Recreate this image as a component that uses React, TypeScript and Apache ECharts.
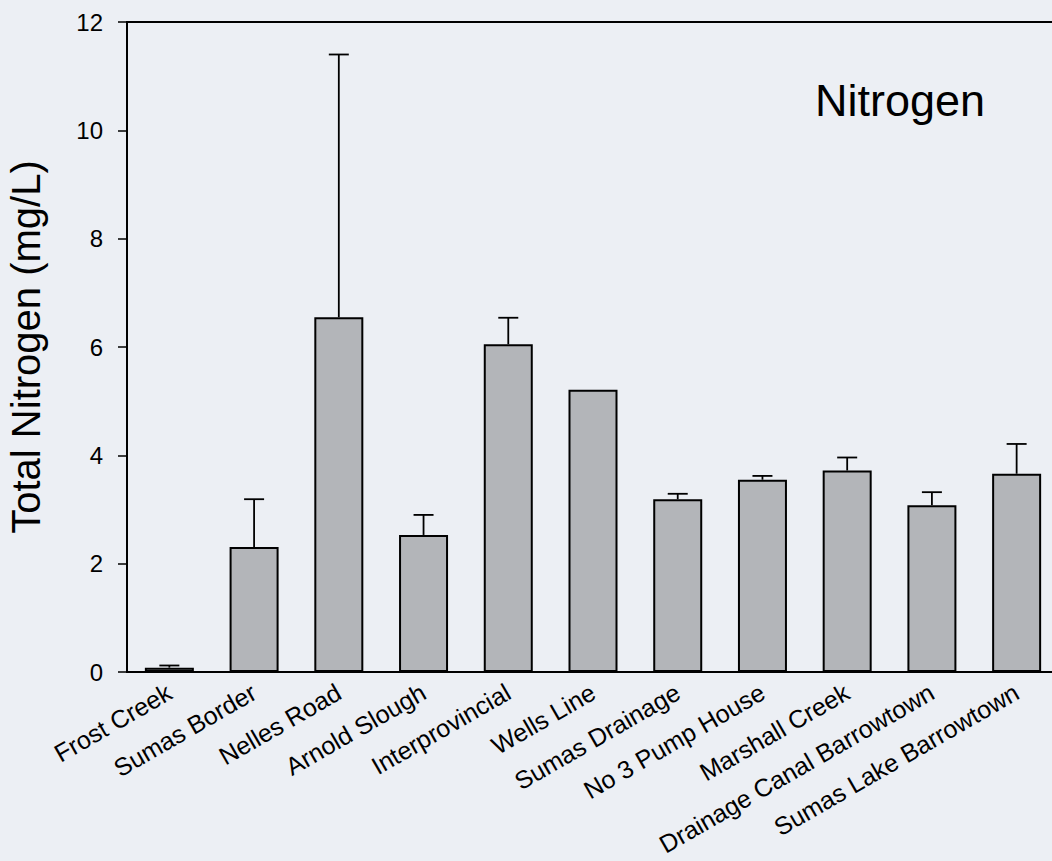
import React, { useEffect, useRef } from "react";
import * as echarts from "echarts";

const categories = [
  "Frost Creek",
  "Sumas Border",
  "Nelles Road",
  "Arnold Slough",
  "Interprovincial",
  "Wells Line",
  "Sumas Drainage",
  "No 3 Pump House",
  "Marshall Creek",
  "Drainage Canal Barrowtown",
  "Sumas Lake Barrowtown",
];
const means = [0.08, 2.31, 6.55, 2.53, 6.05, 5.21, 3.19, 3.55, 3.72, 3.08, 3.66];
const upperErr = [0.12, 3.19, 11.4, 2.9, 6.54, null, 3.29, 3.62, 3.96, 3.32, 4.21];
const yTicks = { min: 0, max: 12, interval: 2 };
const title = "Nitrogen";
const yName = "Total Nitrogen (mg/L)";

const FONT = "'Liberation Sans', Arial, sans-serif";

export default function App() {
  const ref = useRef<HTMLDivElement>(null);
  useEffect(() => {
    if (!ref.current) return;
    const chart = echarts.init(ref.current, null, { renderer: "svg" });
    const errData = categories
      .map((c, i) => (upperErr[i] == null ? null : [i, means[i], upperErr[i]]))
      .filter((d) => d !== null);
    chart.setOption({
      animation: false,
      backgroundColor: "#eceff4",
      textStyle: { fontFamily: FONT, color: "#000" },
      grid: {
        left: 127,
        top: 22,
        width: 932,
        height: 650,
        containLabel: false,
        outerBoundsMode: "none",
        show: true,
        borderColor: "#000",
        borderWidth: 2,
        backgroundColor: "transparent",
      },
      graphic: [
        {
          type: "text",
          left: 815,
          top: 78,
          style: {
            text: title,
            fontSize: 45,
            fontFamily: FONT,
            fill: "#000",
          },
        },
      ],
      xAxis: {
        type: "category",
        data: categories,
        boundaryGap: true,
        axisLine: { lineStyle: { color: "#000", width: 2 } },
        axisTick: {
          alignWithLabel: true,
          length: 9,
          lineStyle: { color: "#000", width: 1.5 },
        },
        axisLabel: {
          rotate: 30,
          interval: 0,
          fontSize: 25,
          margin: 18,
          color: "#000",
          fontFamily: FONT,
        },
        splitLine: { show: false },
      },
      yAxis: {
        type: "value",
        min: yTicks.min,
        max: yTicks.max,
        interval: yTicks.interval,
        name: yName,
        nameLocation: "middle",
        nameGap: 81,
        nameTextStyle: { fontSize: 40, color: "#000", fontFamily: FONT },
        axisLine: { show: true, lineStyle: { color: "#000", width: 2 } },
        axisTick: { show: true, length: 9, lineStyle: { color: "#000", width: 1.5 } },
        axisLabel: { fontSize: 24, margin: 24, color: "#000", fontFamily: FONT },
        splitLine: { show: false },
      },
      series: [
        {
          type: "bar",
          data: means,
          barWidth: 49,
          itemStyle: { color: "#b3b5b9", borderColor: "#000", borderWidth: 2 },
          z: 2,
        },
        {
          type: "custom",
          data: errData,
          z: 3,
          renderItem: (params: any, api: any) => {
            const x = api.value(0);
            const top = api.coord([x, api.value(2)]);
            const base = api.coord([x, api.value(1)]);
            const hw = 10;
            return {
              type: "group",
              children: [
                {
                  type: "line",
                  shape: { x1: top[0], y1: top[1], x2: base[0], y2: base[1] },
                  style: { stroke: "#000", lineWidth: 1.8 },
                },
                {
                  type: "line",
                  shape: { x1: top[0] - hw, y1: top[1], x2: top[0] + hw, y2: top[1] },
                  style: { stroke: "#000", lineWidth: 1.8 },
                },
              ],
            };
          },
        },
      ],
    });
    return () => chart.dispose();
  }, []);
  return (
    <div
      ref={ref}
      style={{ position: "fixed", left: 0, top: 0, width: 1052, height: 861 }}
    />
  );
}
